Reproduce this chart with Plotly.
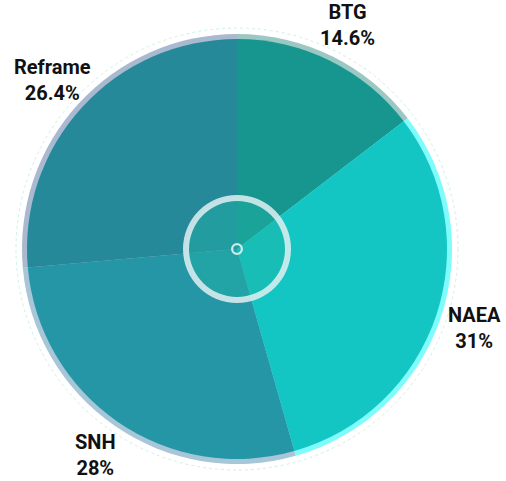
import math
import plotly.graph_objects as go

# ---- data ----
labels = ["BTG", "NAEA", "SNH", "Reframe"]
values = [14.6, 31, 28, 26.4]
value_text = ["14.6%", "31%", "28%", "26.4%"]

main_colors = ["#17968F", "#13C6C4", "#2596A6", "#25899A"]
band_colors = ["#9CC8C4", "#80FBFB", "#A7C6D8", "#A9B9CF"]

W, H = 506, 481
CX, CY = 237, 481 - 249  # pixel centre inside the figure (y from bottom)


def dom(r):
    return dict(x=[(CX - r) / W, (CX + r) / W], y=[(CY - r) / H, (CY + r) / H])


fig = go.Figure()

# outer faint circle
fig.add_shape(type="circle", xref="paper", yref="paper",
              x0=(CX - 221) / W, x1=(CX + 221) / W, y0=(CY - 221) / H, y1=(CY + 221) / H,
              line=dict(color="#CFEFEC", width=1, dash="dot"), layer="below")

# outer band pie
fig.add_trace(go.Pie(labels=labels, values=values, sort=False, direction="clockwise",
                     rotation=0, domain=dom(215),
                     marker=dict(colors=band_colors, line=dict(width=0)),
                     textinfo="none", hoverinfo="skip", showlegend=False))
# main pie
fig.add_trace(go.Pie(labels=labels, values=values, sort=False, direction="clockwise",
                     rotation=0, domain=dom(210),
                     marker=dict(colors=main_colors, line=dict(width=0)),
                     textinfo="none", hoverinfo="label+percent", showlegend=False))
# center tint
fig.add_trace(go.Pie(values=[1], domain=dom(51), sort=False,
                     marker=dict(colors=["rgba(30,180,165,0.45)"], line=dict(width=0)),
                     textinfo="none", hoverinfo="skip", showlegend=False))
# center ring
fig.add_trace(go.Pie(values=[1], domain=dom(54), hole=48 / 54, sort=False,
                     marker=dict(colors=["rgba(225,240,242,0.85)"], line=dict(width=0)),
                     textinfo="none", hoverinfo="skip", showlegend=False))
# tiny center ring
fig.add_trace(go.Pie(values=[1], domain=dom(6), hole=0.62, sort=False,
                     marker=dict(colors=["rgba(225,240,242,0.9)"], line=dict(width=0)),
                     textinfo="none", hoverinfo="skip", showlegend=False))

# labels outside
total = sum(values)
cum = 0
R = 250
for lab, v, t in zip(labels, values, value_text):
    mid = (cum + v / 2) / total * 2 * math.pi
    cum += v
    x = (CX + R * math.sin(mid)) / W
    y = (CY + R * math.cos(mid)) / H
    fig.add_annotation(x=x, y=y, xref="paper", yref="paper", showarrow=False,
                       xanchor="center", yanchor="middle",
                       text=f"<b>{lab}<br>{t}</b>", align="center",
                       font=dict(family="Roboto", size=20, color="#111111"))

fig.update_layout(width=W, height=H, margin=dict(l=0, r=0, t=0, b=0),
                  paper_bgcolor="white", plot_bgcolor="white")
fig.write_html("out.html", config={"displayModeBar": False},
               post_script="document.body.style.margin='0';")
